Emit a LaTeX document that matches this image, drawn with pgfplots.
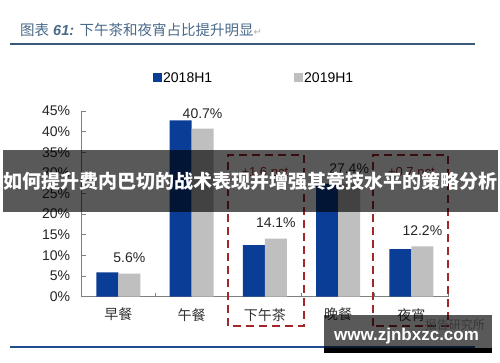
\documentclass[border=0pt]{standalone}
\usepackage{fontspec}
\setmainfont{Liberation Sans}
\newfontfamily\cjk{Noto Sans CJK SC}
\newfontfamily\sym{DejaVu Sans}
\usepackage{pgfplots}
\pgfplotsset{compat=1.18}
\definecolor{barblue}{HTML}{0A3D96}
\definecolor{bargray}{HTML}{BFBFBF}
\definecolor{boxred}{HTML}{A3262B}
\definecolor{titlecol}{HTML}{4A6A8A}
\definecolor{linecol}{HTML}{3A5878}
\definecolor{botline}{HTML}{1F4E8F}
\definecolor{axcol}{HTML}{7F7F7F}
\begin{document}
\begin{tikzpicture}[x=1pt,y=1pt]
\path[use as bounding box, fill=white] (0,0) rectangle (500,362);
% title
\node[anchor=west, text=titlecol, inner sep=0pt, font=\fontsize{14.5}{16}\selectfont] at (20,332)
  {{\cjk 图表} \textbf{\textit{61:}} {\cjk 下午茶和夜宵占比提升明显}{\sym\fontsize{10}{12}\selectfont\color{gray!60}↵}};
\draw[linecol, line width=1.5pt] (10,318) -- (475,318);
\begin{axis}[
  at={(81.7pt,65.3pt)}, anchor=south west,
  scale only axis, width=366.3pt, height=185.7pt,
  xmin=-0.5, xmax=4.5, ymin=0, ymax=45,
  enlargelimits=false, clip=false,
  axis lines*=left,
  axis line style={draw=axcol, line width=0.8pt},
  ybar, bar width=22pt,
  ytick={0,5,...,45},
  yticklabel={\pgfmathprintnumber{\tick}\%},
  /pgf/number format/assume math mode=true,
  tick align=inside, major tick length=4pt,
  tick style={draw=axcol, line width=0.8pt},
  xtick={0.5,1.5,2.5,3.5,4.5}, xticklabels={},
  extra x ticks={0,1,2,3,4},
  extra x tick labels={早餐,午餐,下午茶,晚餐,夜宵},
  extra x tick style={major tick length=0pt},
  xticklabel style={font=\cjk\fontsize{14}{16}\selectfont, text=black!80, yshift=-8pt},
  yticklabel style={font=\fontsize{14}{16}\selectfont, text=black!85, xshift=-8pt},
  legend style={at={(0.185,1.178)}, anchor=west, draw=none, fill=none,
    legend columns=2, font=\fontsize{14}{16}\selectfont,
    /tikz/every even column/.append style={column sep=80pt},
    nodes={inner sep=1.5pt}},
  legend image code/.code={\path[#1, draw=none] (0pt,-4.5pt) rectangle (9pt,4.5pt);},
]
\addplot[fill=barblue, draw=none, bar shift=-11pt] coordinates {(0,5.9) (1,42.7) (2,12.5) (3,27.4) (4,11.5)};
\addplot[fill=bargray, draw=none, bar shift=11pt,
  nodes near coords={\pgfmathprintnumber[fixed,precision=1,fixed zerofill]{\pgfplotspointmeta}\%},
  every node near coord/.append style={font=\fontsize{14}{16}\selectfont, text=black!85, anchor=south, yshift=7pt}]
  coordinates {(0,5.6) (1,40.7) (2,14.1) (3,27.4) (4,12.2)};
\legend{2018H1,2019H1}
% highlight boxes
\draw[boxred, line width=1.8pt, dash pattern=on 8pt off 5pt] (axis cs:1.497,-7.1) rectangle (axis cs:2.534,34.3);
\draw[boxred, line width=1.8pt, dash pattern=on 8pt off 5pt] (axis cs:3.476,-7.1) rectangle (axis cs:4.5,34.3);
\node[text=boxred, font=\fontsize{13}{15}\selectfont] at (axis cs:2,30) {+1.6 pct};
\node[text=boxred, font=\fontsize{13}{15}\selectfont] at (axis cs:4,30) {+0.7 pct};
\end{axis}
% bottom line
\draw[botline, line width=2pt] (10,15) -- (475,15);
% banner
\fill[black, opacity=0.65] (3,150) rectangle (498,212);
\node[text=white, font=\cjk\bfseries\fontsize{19}{22}\selectfont, inner sep=0pt] at (250,181)
  {如何提升费内巴切的战术表现并增强其竞技水平的策略分析};
% watermark
\node[text=gray!70, font=\cjk\fontsize{12}{14}\selectfont, anchor=east, inner sep=0pt] at (485,37) {报告研究所};
\fill[black, opacity=0.65] (324,14) rectangle (491.5,47);
\fill[black] (324,9.3) rectangle (491.5,14);
\node[text=white, font=\bfseries\fontsize{17}{20}\selectfont, inner sep=0pt] at (406.5,25.5) {www.zjnbxzc.com};
\end{tikzpicture}
\end{document}
